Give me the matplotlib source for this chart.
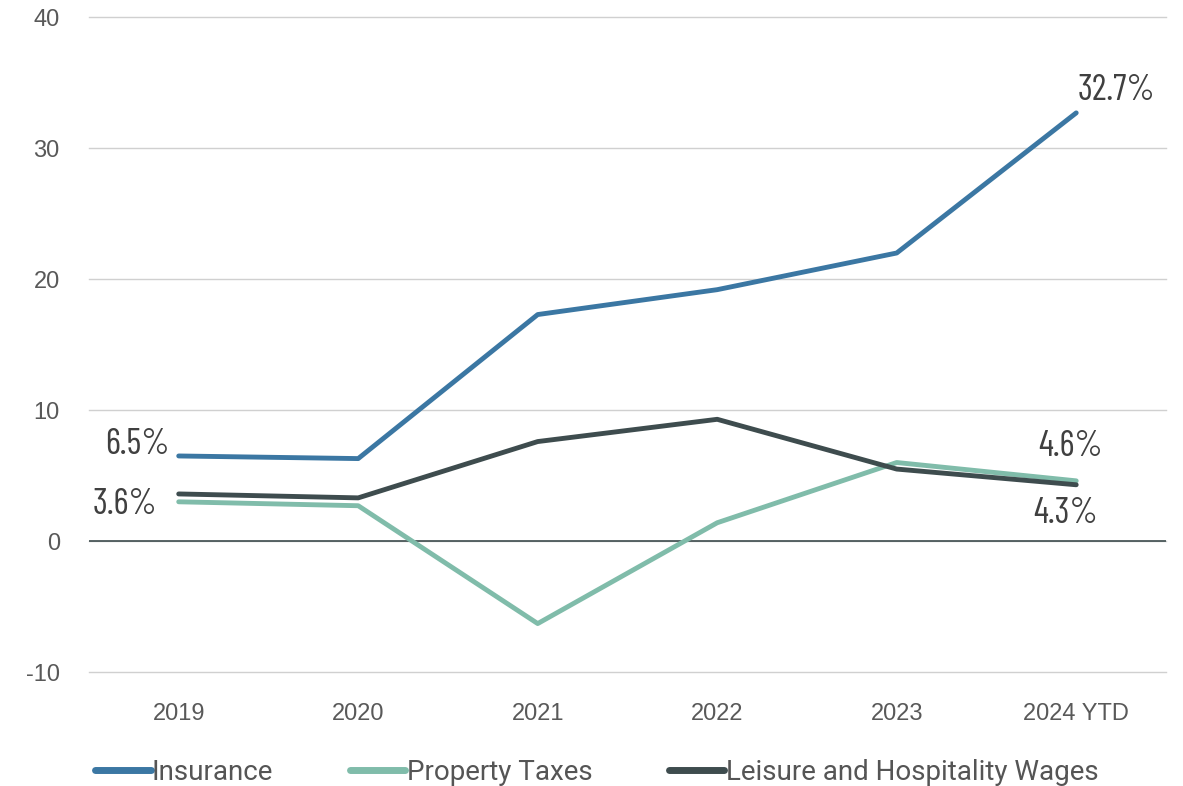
import matplotlib.pyplot as plt
import numpy as np

years = ['2019', '2020', '2021', '2022', '2023', '2024 YTD']
yticks = [-10, 0, 10, 20, 30, 40]
insurance = [6.5, 6.3, 17.3, 19.2, 22.0, 32.7]
property_taxes = [3.0, 2.7, -6.3, 1.4, 6.0, 4.6]
leisure_wages = [3.6, 3.3, 7.6, 9.3, 5.5, 4.3]

c_ins = '#3b77a3'
c_tax = '#80bcaa'
c_lei = '#3e4c4e'
cond = ['Barlow Condensed', 'Roboto Condensed', 'DejaVu Sans']
leg_font = ['Roboto', 'DejaVu Sans']
tick_font = ['Liberation Sans', 'DejaVu Sans']

fig = plt.figure(figsize=(11.83, 7.86), dpi=100)
ax = fig.add_axes([0.0752, 0.145, 0.9104, 0.833])

x = np.arange(len(years))
ax.plot(x, insurance, color=c_ins, lw=3.5, label='Insurance', solid_capstyle='round', zorder=3)
ax.plot(x, property_taxes, color=c_tax, lw=3.5, label='Property Taxes', solid_capstyle='round', zorder=3)
ax.plot(x, leisure_wages, color=c_lei, lw=3.5, label='Leisure and Hospitality Wages', solid_capstyle='round', zorder=3)

ax.set_xlim(-0.5, 5.5)
ax.set_ylim(-10, 40)
ax.set_yticks(yticks)
ax.set_yticklabels([str(v) for v in yticks])
ax.set_xticks(x)
ax.set_xticklabels(years)
ax.grid(axis='y', color='#d0d0d0', lw=1)
for gl in ax.get_ygridlines():
    gl.set_clip_on(False)
ax.axhline(0, color='#3e4c4e', lw=1.2, zorder=2)
for s in ax.spines.values():
    s.set_visible(False)
ax.tick_params(length=0, labelsize=17, labelcolor='#595959')
ax.tick_params(axis='y', pad=21)
ax.tick_params(axis='x', pad=22)
for lab in ax.get_yticklabels() + ax.get_xticklabels():
    lab.set_family(tick_font)

# value labels at the ends
lbl = dict(fontsize=26, color='#404040', family=cond)
ax.text(-0.05, insurance[0] + 0.9, f'{insurance[0]}%', ha='right', va='center', **lbl)
ax.text(-0.12, leisure_wages[0] - 0.8, f'{leisure_wages[0]}%', ha='right', va='center', **lbl)
ax.text(5.01, insurance[5] + 1.7, f'{insurance[5]}%', ha='left', va='center', **lbl)
ax.text(4.97, property_taxes[5] + 2.6, f'{property_taxes[5]}%', ha='center', va='center', **lbl)
ax.text(4.94, leisure_wages[5] - 2.2, f'{leisure_wages[5]}%', ha='center', va='center', **lbl)

leg = ax.legend(loc='center left', bbox_to_anchor=(0.0056, -0.153), ncol=3, frameon=False,
                prop={'family': leg_font, 'size': 20}, handlelength=2.0, handletextpad=0.05,
                columnspacing=2.75, borderaxespad=0, borderpad=0)
for h in leg.get_lines():
    h.set_linewidth(5)
for t in leg.get_texts():
    t.set_color('#555555')

fig.savefig('out.png', dpi=100)
